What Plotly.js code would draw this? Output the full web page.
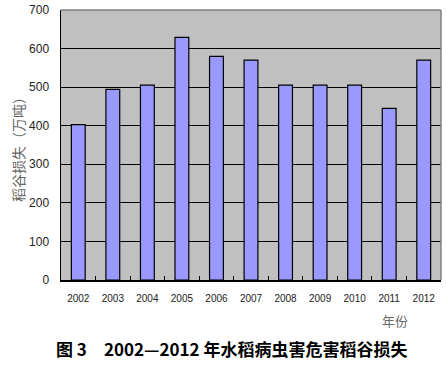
<!DOCTYPE html>
<html>
<head>
<meta charset="utf-8">
<script src="https://cdn.plot.ly/plotly-3.0.1.min.js"></script>
<style>html,body{margin:0;padding:0;background:#fff;}#chart{width:446px;height:370px;}</style>
</head>
<body>
<div id="chart"></div>
<script>
var years = ['2002','2003','2004','2005','2006','2007','2008','2009','2010','2011','2012'];
var losses = [403, 494, 505, 629, 580, 570, 505, 505, 505, 445, 570];
var yTicks = [0, 100, 200, 300, 400, 500, 600, 700];
var yTitle = '稻谷损失（万吨）';
var xTitle = '年份';
var caption = '图 3　2002—2012 年水稻病虫害危害稻谷损失';

var L = 61, R = 441, T = 10, B = 280, W = 446, H = 370;
function px(x){ return (x - L) / (R - L); }
function py(y){ return (B - y) / (B - T); }

var trace = {
  type: 'bar',
  x: years,
  y: losses,
  marker: {color: '#9999ff', line: {color: '#000000', width: 1.2}},
  hoverinfo: 'x+y'
};

var layout = {
  width: W, height: H,
  margin: {l: L, r: W - R, t: T, b: H - B},
  paper_bgcolor: '#ffffff',
  plot_bgcolor: '#c0c0c0',
  showlegend: false,
  bargap: 0.6,
  font: {family: 'Liberation Sans, Arial, sans-serif', color: '#000'},
  xaxis: {
    type: 'category',
    showline: true, linecolor: '#000', linewidth: 1.5,
    ticks: 'inside', tickson: 'boundaries', ticklen: 4, tickcolor: '#000', tickwidth: 1,
    showgrid: false, zeroline: false,
    tickfont: {size: 10, color: '#222'},
    ticklabelstandoff: 8,
    fixedrange: true
  },
  yaxis: {
    range: [0, 700],
    tickvals: yTicks,
    showline: true, linecolor: '#000', linewidth: 1.5,
    showgrid: true, gridcolor: '#000', gridwidth: 1,
    zeroline: false,
    ticks: '',
    tickfont: {size: 12, color: '#222'},
    ticklabelstandoff: 8,
    fixedrange: true
  },
  shapes: [
    {type: 'line', xref: 'paper', yref: 'paper', x0: 0, x1: 1, y0: 1, y1: 1, line: {color: '#808080', width: 1.5}},
    {type: 'line', xref: 'paper', yref: 'paper', x0: 1, x1: 1, y0: 0, y1: 1, line: {color: '#808080', width: 1.5}}
  ],
  annotations: [
    {text: yTitle, xref: 'paper', yref: 'paper', x: px(18), y: py(146), textangle: -90,
     showarrow: false, xanchor: 'center', yanchor: 'middle',
     font: {family: 'Noto Sans CJK SC', size: 14, color: '#666'}},
    {text: xTitle, xref: 'paper', yref: 'paper', x: px(395), y: py(320),
     showarrow: false, xanchor: 'center', yanchor: 'middle',
     font: {family: 'Noto Sans CJK SC', size: 13, color: '#666'}},
    {text: '<b>' + caption + '</b>', xref: 'paper', yref: 'paper', x: px(54), y: py(348),
     showarrow: false, xanchor: 'left', yanchor: 'middle',
     font: {family: 'Noto Sans CJK SC', size: 17, color: '#000'}}
  ]
};

Plotly.newPlot('chart', [trace], layout, {displayModeBar: false, staticPlot: true});
</script>
</body>
</html>
